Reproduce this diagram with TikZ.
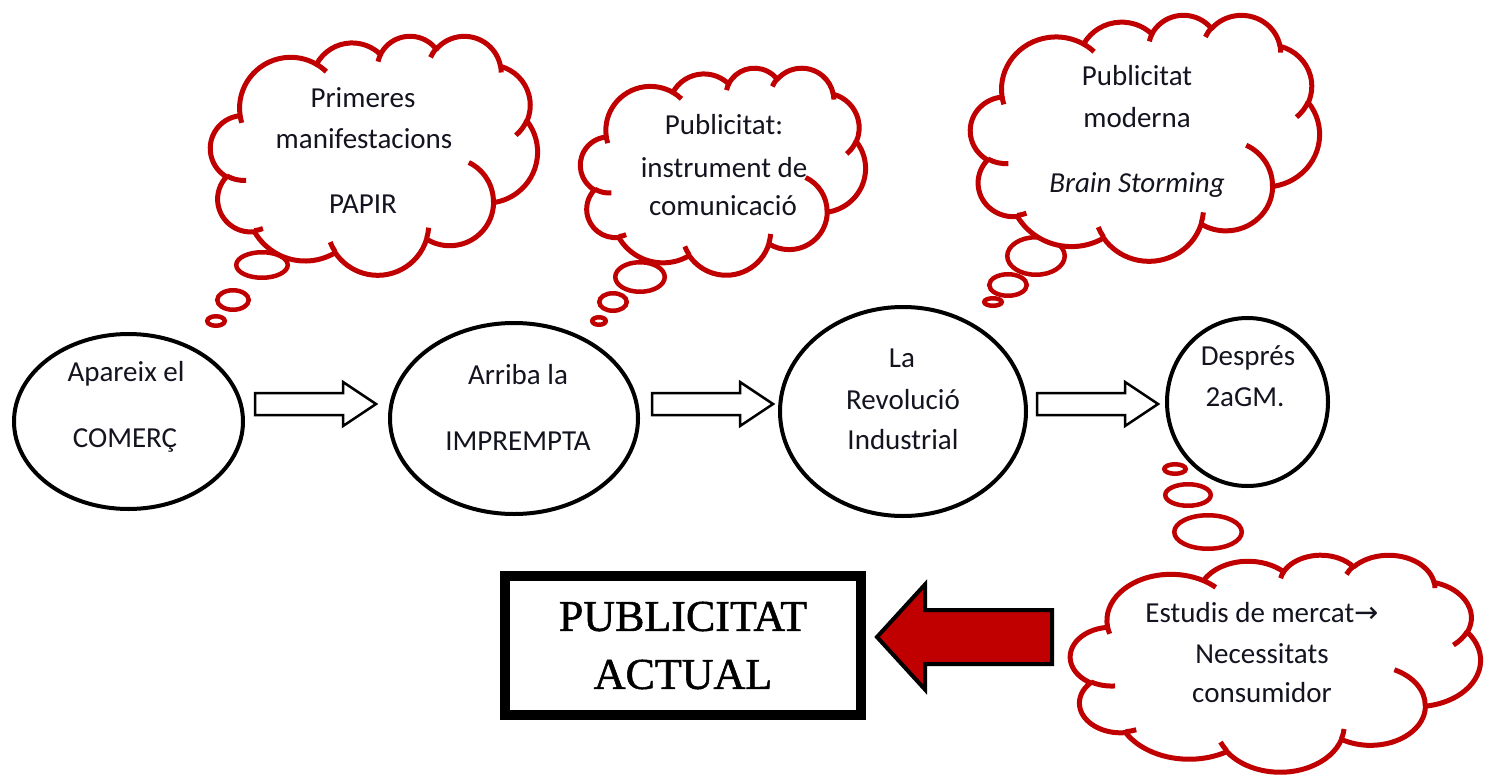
\documentclass[tikz,border=0pt]{standalone}
\usepackage{fontspec}
\setmainfont{Carlito}
\newfontfamily\titlefont[FakeBold=1.2]{Liberation Serif}
\newfontfamily\symfont{DejaVu Sans}
\usetikzlibrary{shapes.geometric}

\definecolor{cloudred}{HTML}{C00000}
\definecolor{arrowred}{HTML}{C00000}
\definecolor{inktext}{HTML}{141420}

% parametric angle of the ellipse point that lies at a given visual angle
\pgfmathdeclarefunction{visang}{3}{%
  \begingroup\pgfmathparse{atan2((#1)*sin(#3),(#2)*cos(#3))}\pgfmathsmuggle\pgfmathresult\endgroup}

% elliptic arc given by radii, visual start angle and visual sweep
\newcommand\ooarc[4]{arc[start angle={visang(#1,#2,#3)},
  delta angle={mod(visang(#1,#2,(#3)+(#4))-visang(#1,#2,#3)+720,360)},
  x radius=#1, y radius=#2]}

% thought cloud in a 4320 x 4320 frame: #1,#2 top-left corner, #3 width, #4 height, #5 name
\newcommand\thoughtcloud[5]{%
  \begin{scope}[shift={(#1,#2)}, x=#3pt/4320, y=-#4pt/4320]
    \coordinate (#5) at (2160,2160);
    \draw[cloudline] (390,1437)
      \ooarc{675.3}{919.0}{-190.4875}{123.7805}
      \ooarc{533.3}{726.7}{-144.1024}{89.9452}
      \ooarc{436.5}{594.5}{-145.8079}{99.7230}
      \ooarc{485.7}{659.5}{-130.9861}{117.2417}
      \ooarc{533.3}{727.3}{-78.7089}{109.0269}
      \ooarc{677.5}{922.0}{-46.2673}{130.2690}
      \ooarc{578.5}{786.7}{0.6250}{114.0333}
      \ooarc{675.2}{921.5}{22.4516}{115.1726}
      \ooarc{772.0}{1054.3}{66.2426}{75.7110}
      \ooarc{436.0}{591.8}{-274.9421}{146.7356}
      \ooarc{434.5}{594.5}{-246.8285}{152.5189}
      -- cycle;
    \draw[cloudstub]
      (469.3,2617.7) \ooarc{434.5}{594.5}{86.7420}{26.4295}
      (692.8,3489.9) \ooarc{436.0}{591.8}{73.6105}{11.4475}
      (1647.8,3909.0) \ooarc{675.2}{921.5}{137.6242}{14.0811}
      (2882.7,3475.1) \ooarc{675.2}{921.5}{6.4533}{15.9984}
      (3412.9,2295.4) \ooarc{578.5}{786.7}{-70.2924}{70.9174}
      (4179.8,1535.4) \ooarc{533.3}{727.3}{30.3180}{27.7515}
      (3832.4,542.6) \ooarc{485.7}{659.5}{-13.7443}{14.8589}
      (2907.8,395.2) \ooarc{485.7}{659.5}{-149.1815}{18.1954}
      (2214.1,472.0) \ooarc{436.5}{594.5}{-163.4943}{17.6864}
      (1400.0,519.2) \ooarc{675.3}{919.0}{-66.7070}{12.3194}
      (412.7,1578.9) \ooarc{675.3}{919.0}{157.6544}{11.8582};
  \end{scope}}

\tikzset{
  cloudline/.style={draw=cloudred, line width=5pt, fill=white, line join=round},
  cloudstub/.style={draw=cloudred, line width=5pt, line cap=butt},
  bubble/.style={ellipse, draw=cloudred, line width=4.5pt, fill=white, inner sep=0pt},
  stage/.style={ellipse, draw=black, line width=4pt, inner sep=0pt},
  lbl/.style={font=\fontsize{29}{35}\selectfont, text=inktext, anchor=base, inner sep=0pt},
  flowarrow/.pic={\draw[line width=2.5pt, fill=white, line join=miter]
    (0,-11) -- (88,-11) -- (88,-22) -- (121,0) -- (88,22) -- (88,11) -- (0,11) -- cycle;},
  backarrow/.pic={\draw[line width=4pt, fill=arrowred, draw=black, line join=miter]
    (0,0) -- (48,-52.5) -- (48,-27) -- (175,-27) -- (175,27) -- (48,27) -- (48,52.5) -- cycle;}
}

\begin{document}
\begin{tikzpicture}[x=1pt, y=-1pt]
\useasboundingbox (0,0) rectangle (1494,776);

% stages of the timeline
\node[stage, minimum width=229, minimum height=175] (c1) at (128.5,421.5) {};
\node[stage, minimum width=248, minimum height=191] (c2) at (514,418.5) {};
\node[stage, minimum width=246, minimum height=209] (c3) at (903,411.5) {};
\node[stage, minimum width=161, minimum height=168] (c4) at (1247.5,402) {};

\node[lbl] (c1a) at (126,381) {Apareix el};
\node[lbl] (c1b) at (125,447) {COMERÇ};
\node[lbl] (c2a) at (518,384) {Arriba la};
\node[lbl] (c2b) at (518,450) {IMPREMPTA};
\node[lbl] (c3a) at (902,367) {La};
\node[lbl] (c3b) at (903,409) {Revolució};
\node[lbl] (c3c) at (903,449) {Industrial};
\node[lbl] (c4a) at (1248,365) {Després};
\node[lbl] (c4b) at (1245,406) {2aGM.};

% arrows between the stages
\pic (a1) at (255,404) {flowarrow};
\pic (a2) at (652,404) {flowarrow};
\pic (a3) at (1037,404) {flowarrow};

% thought clouds and their bubbles
\node[bubble, minimum width=51.5, minimum height=25.5] (b1a) at (262,265) {};
\node[bubble, minimum width=31.5, minimum height=19.5] (b1b) at (233,300) {};
\node[bubble, minimum width=17.5, minimum height=9.5] (b1c) at (216,321) {};
\thoughtcloud{210.5}{35.5}{327}{239}{k1}
\node[lbl] (t1a) at (363,107) {Primeres};
\node[lbl] (t1b) at (364,148) {manifestacions};
\node[lbl] (t1c) at (363,213) {PAPIR};

\node[bubble, minimum width=49.5, minimum height=29.5] (b2a) at (640,277) {};
\node[bubble, minimum width=27.5, minimum height=17.5] (b2b) at (613,302) {};
\node[bubble, minimum width=13.5, minimum height=7.5] (b2c) at (599,321) {};
\thoughtcloud{580.5}{67.5}{285}{207}{k2}
\node[lbl] (t2a) at (724,134) {Publicitat:};
\node[lbl] (t2b) at (724,177) {instrument de};
\node[lbl] (t2c) at (723,215) {comunicació};

\node[bubble, minimum width=57.5, minimum height=37.5] (b3a) at (1036,256) {};
\node[bubble, minimum width=37.5, minimum height=21.5] (b3b) at (1008,285) {};
\node[bubble, minimum width=17.5, minimum height=7.5] (b3c) at (993,302) {};
\thoughtcloud{970.5}{14.5}{349}{246}{k3}
\node[lbl] (t3a) at (1137,85) {Publicitat};
\node[lbl] (t3b) at (1137,127) {moderna};
\node[lbl] (t3c) at (1137,192) {\itshape Brain Storming};

\node[bubble, minimum width=21.5, minimum height=9.5] (b4a) at (1175,469) {};
\node[bubble, minimum width=45.5, minimum height=21.5] (b4b) at (1188,495) {};
\node[bubble, minimum width=67.5, minimum height=33.5] (b4c) at (1208,532) {};
\thoughtcloud{1070.5}{554.5}{410}{217}{k4}
\node[lbl] (t4a) at (1262,622) {Estudis de mercat{\symfont →}};
\node[lbl] (t4b) at (1262,663) {Necessitats};
\node[lbl] (t4c) at (1262,702) {consumidor};

% result
\node[draw=black, line width=10pt, minimum width=356, minimum height=139, inner sep=0pt,
      align=center, font=\titlefont\fontsize{44}{58}\selectfont] (res) at (683,645.5)
      {PUBLICITAT\\ACTUAL};
\pic (ra) at (877,637) {backarrow};
\end{tikzpicture}
\end{document}
